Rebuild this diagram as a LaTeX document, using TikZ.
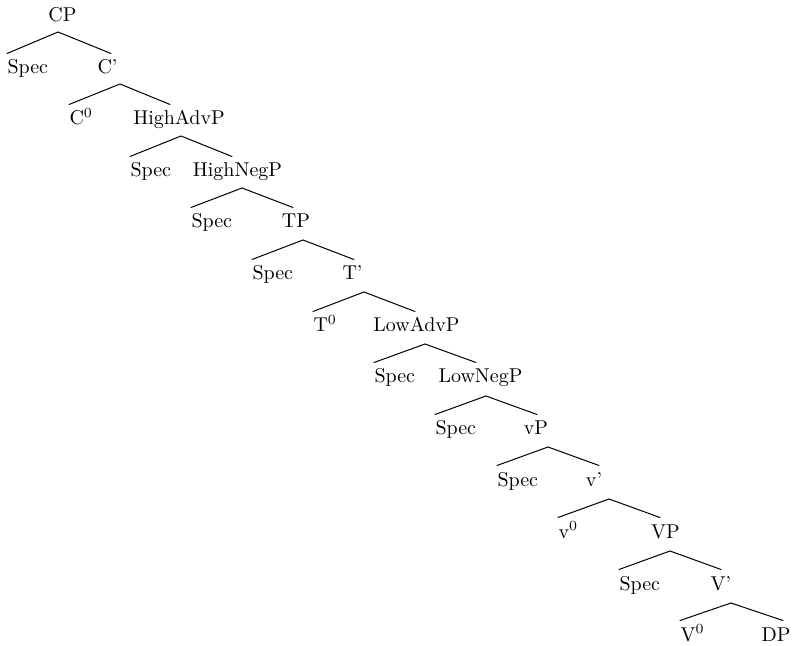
\documentclass[tikz,border=0pt]{standalone}
\begin{document}
\begin{tikzpicture}[x=0.5pt,y=-0.5pt,line width=0.5pt,line cap=round]
	\tikzset{cat/.style={inner xsep=0pt,inner ysep=3pt,text height=7pt,text depth=1.5pt,font=\fontsize{10}{12}\selectfont}}
	\useasboundingbox (0,0) rectangle (792,646);
	% labels, one row per level
	\node[cat,anchor=base] (cp) at (62.5,22) {CP};
	\node[cat,anchor=base west] (spec1) at (7,74) {Spec};
	\node[cat,anchor=base] (cbar) at (107.5,74) {C’};
	\node[cat,anchor=base west] (c0) at (69,125) {C\textsuperscript{0}};
	\node[cat,anchor=base] (highadvp) at (179,125) {HighAdvP};
	\node[cat,anchor=base west] (spec2) at (130,177) {Spec};
	\node[cat,anchor=base] (highnegp) at (237.5,177) {HighNegP};
	\node[cat,anchor=base west] (spec3) at (191,228) {Spec};
	\node[cat,anchor=base] (tp) at (296,228) {TP};
	\node[cat,anchor=base west] (spec4) at (252,280) {Spec};
	\node[cat,anchor=base] (tbar) at (352.5,280) {T’};
	\node[cat,anchor=base west] (t0) at (313,332) {T\textsuperscript{0}};
	\node[cat,anchor=base] (lowadvp) at (416.5,332) {LowAdvP};
	\node[cat,anchor=base west] (spec5) at (374,383) {Spec};
	\node[cat,anchor=base] (lownegp) at (480.5,383) {LowNegP};
	\node[cat,anchor=base west] (spec6) at (435,435) {Spec};
	\node[cat,anchor=base] (vp) at (536,435) {vP};
	\node[cat,anchor=base west] (spec7) at (497,486) {Spec};
	\node[cat,anchor=base] (vbar) at (594,486) {v’};
	\node[cat,anchor=base west] (v0) at (558,538) {v\textsuperscript{0}};
	\node[cat,anchor=base] (bigvp) at (665.5,538) {VP};
	\node[cat,anchor=base west] (spec8) at (619,590) {Spec};
	\node[cat,anchor=base] (bigvbar) at (721,590) {V’};
	\node[cat,anchor=base west] (bigv0) at (680,641) {V\textsuperscript{0}};
	\node[cat,anchor=base] (dp) at (776,641) {DP};
	% branching points
	\coordinate (cp-fork) at (58,32);
	\coordinate (cbar-fork) at (120,84);
	\coordinate (highadvp-fork) at (181,136);
	\coordinate (highnegp-fork) at (242,188);
	\coordinate (tp-fork) at (303,240);
	\coordinate (tbar-fork) at (364,292);
	\coordinate (lowadvp-fork) at (425,344);
	\coordinate (lownegp-fork) at (486,396);
	\coordinate (vp-fork) at (548,447);
	\coordinate (vbar-fork) at (609,499);
	\coordinate (bigvp-fork) at (670,551);
	\coordinate (bigvbar-fork) at (731,603);
	% branches
	\draw (spec1.north west) -- (cp-fork) -- ([xshift=1.75pt]cbar.north);
	\draw (c0.north west) -- (cbar-fork) -- ([xshift=-4.5pt]highadvp.north);
	\draw (spec2.north west) -- (highadvp-fork) -- ([xshift=-2.75pt]highnegp.north);
	\draw (spec3.north west) -- (highnegp-fork) -- ([xshift=-1.5pt]tp.north);
	\draw (spec4.north west) -- (tp-fork) -- ([xshift=0.75pt]tbar.north);
	\draw (t0.north west) -- (tbar-fork) -- ([xshift=-0.75pt]lowadvp.north);
	\draw (spec5.north west) -- (lowadvp-fork) -- ([xshift=-2.25pt]lownegp.north);
	\draw (spec6.north west) -- (lownegp-fork) -- ([xshift=0.5pt]vp.north);
	\draw (spec7.north west) -- (vp-fork) -- ([xshift=2.5pt]vbar.north);
	\draw (v0.north west) -- (vbar-fork) -- ([xshift=-2.75pt]bigvp.north);
	\draw (spec8.north west) -- (bigvp-fork) -- (bigvbar.north);
	\draw (bigv0.north west) -- (bigvbar-fork) -- ([xshift=3.5pt]dp.north);
\end{tikzpicture}
\end{document}
